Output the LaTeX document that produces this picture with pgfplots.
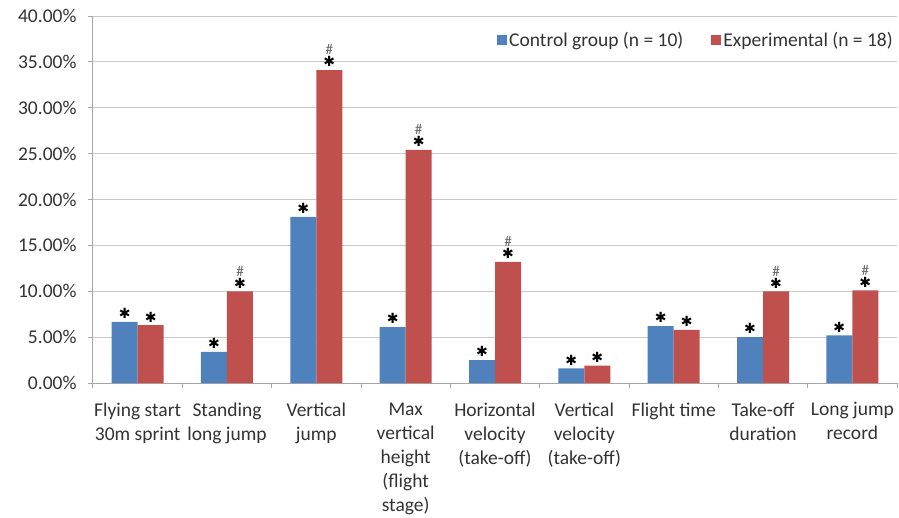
\documentclass[border=0pt]{standalone}
\usepackage{pgfplots}
\pgfplotsset{compat=1.18}
\usepackage{fontspec}
\setmainfont{Carlito}
\newfontfamily\dejavu{DejaVu Sans}
\definecolor{cblue}{HTML}{4F81BD}
\definecolor{cred}{HTML}{C0504D}
\definecolor{axgray}{HTML}{A6A6A6}
\definecolor{gridgray}{HTML}{C8C8C8}
\protected\def\St{{\dejavu\fontsize{14}{14}\selectfont ✱}}
\protected\def\SH{{\color{black!60}\fontsize{15}{15}\selectfont\#}\\[0pt]\St}
\begin{document}
\begin{tikzpicture}
\begin{axis}[
  at={(0,0)}, anchor=south west,
  scale only axis, width=804pt, height=367pt,
  ymin=0, ymax=40, xmin=-0.5, xmax=8.5,
  ybar=0pt, bar width=26pt,
  clip=false,
  axis x line*=bottom, axis y line*=left,
  axis line style={axgray, line width=1pt},
  ytick={0,5,...,40},
  ymajorgrids, grid style={gridgray, line width=1pt},
  major tick length=5pt,
  tick align=outside,
  tick style={axgray, line width=1pt},
  /pgf/number format/assume math mode=true,
  yticklabel={\pgfmathprintnumber[fixed,fixed zerofill,precision=2]{\tick}\%},
  yticklabel style={font=\fontsize{19.5}{24}\selectfont, text=black!80, xshift=-8pt},
  xtick={-0.5,0.5,...,8.5},
  xticklabels={{Flying start\\30m sprint},{Standing\\long jump},{Vertical\\jump},{Max\\vertical\\height\\(flight\\stage)},{Horizontal\\velocity\\(take-off)},{Vertical\\velocity\\(take-off)},{Flight time},{Take-off\\duration},{Long jump\\record},{}},
  xticklabel style={align=center, font=\fontsize{19.5}{24}\selectfont, text=black!80, xshift=44.667pt, yshift=-11pt},
  nodes near coords,
  point meta=explicit symbolic,
  every node near coord/.append style={anchor=south, inner sep=0pt, yshift=3pt, align=center, text=black},
  legend style={at={(1,1)}, anchor=north east, xshift=1pt, yshift=-12pt, draw=none, fill=none,
    legend columns=2, font=\fontsize{19.5}{24}\selectfont, text=black!80,
    /tikz/every even column/.append style={column sep=26pt}},
]
\addplot[fill=cblue, draw=none, legend image code/.code={\fill[cblue] (0pt,-5pt) rectangle (10pt,5pt);}]
  coordinates {(0,6.65) [\St] (1,3.4) [\St] (2,18.1) [\St] (3,6.1) [\St] (4,2.5) [\St]
               (5,1.6) [\St] (6,6.2) [\St] (7,5.0) [\St] (8,5.2) [\St]};
\addplot[fill=cred, draw=none, legend image code/.code={\fill[cred] (0pt,-5pt) rectangle (10pt,5pt);}]
  coordinates {(0,6.3) [\St] (1,10.0) [\SH] (2,34.1) [\SH] (3,25.4) [\SH] (4,13.2) [\SH]
               (5,1.9) [\St] (6,5.8) [\St] (7,10.0) [\SH] (8,10.1) [\SH]};
\legend{Control group (n = 10), Experimental (n = 18)}
\end{axis}
\pgfresetboundingbox
\useasboundingbox (-93pt,-134pt) rectangle (806pt,383pt);
\end{tikzpicture}
\end{document}
